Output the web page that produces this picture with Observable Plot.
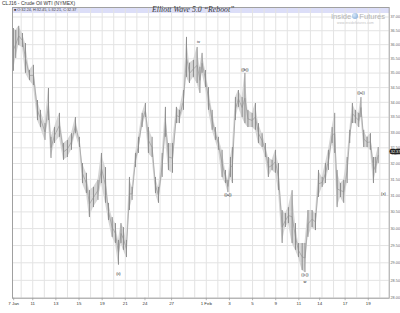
<!DOCTYPE html>
<html>
<head>
<meta charset="utf-8">
<script src="https://cdn.jsdelivr.net/npm/d3@7"></script>
<script src="https://cdn.jsdelivr.net/npm/@observablehq/plot@0.6"></script>
<style>
  html, body { margin: 0; padding: 0; background: #fff; }
  #wrap { position: relative; width: 400px; height: 313px; overflow: hidden; font-family: "Liberation Sans", Arial, sans-serif; }
  #wrap svg { position: absolute; left: 0; top: 0; }
  .ov { position: absolute; white-space: nowrap; }
</style>
</head>
<body>
<div id="wrap"></div>
<script>
// ---- data (trading-day index; 0 = 8 Jan session gridline) ----
const barDays = [-0.67,-0.47,-0.21,0.11,0.37,0.72,1.06,1.41,1.67,2.06,2.36,2.58,2.88,3.31,3.66,4.00,4.35,4.69,5.04,5.30,5.64,5.90,6.25,6.64,6.94,7.29,7.55,7.87,8.15,8.41,8.63,8.84,9.10,9.36,9.59,9.88,10.14,10.46,10.74,11.00,11.32,11.61,11.87,12.19,12.47,12.73,13.08,13.42,13.68,14.03,14.29,14.55,14.89,15.21,15.45,15.64,15.93,16.19,16.51,16.79,17.05,17.37,17.66,17.87,18.09,18.26,18.52,18.78,19.10,19.34,19.60,19.97,20.25,20.51,20.83,21.11,21.37,21.69,21.98,22.24,22.56,22.84,23.10,23.42,23.71,23.97,24.29,24.53,24.79,25.15,25.44,25.70,26.02,26.30,26.56,26.88,27.10,27.31,27.60,27.88,28.18,28.40,28.63,28.89,29.18,29.37,29.61,29.90,30.19,30.45,30.65,30.86];
const barHighs = [36.58,36.51,36.66,36.40,36.04,35.09,35.27,34.06,33.73,33.29,34.47,32.84,33.16,33.63,32.64,32.74,32.96,33.49,32.84,32.00,31.69,31.15,31.25,31.47,32.32,31.87,30.76,30.33,30.15,29.65,30.15,30.03,29.65,31.56,31.25,32.32,32.84,33.63,33.96,33.16,32.84,31.56,31.25,32.32,33.83,32.64,32.64,33.83,33.73,34.40,36.26,35.34,35.44,35.90,35.20,35.69,35.09,34.50,33.73,33.16,32.84,32.42,31.78,31.47,32.19,32.51,34.16,34.40,34.16,34.99,33.73,33.63,33.96,33.29,32.96,32.64,32.19,32.10,32.42,32.00,30.54,30.45,30.63,31.15,30.15,29.56,29.56,29.56,30.54,30.54,30.45,31.78,31.56,32.00,32.42,33.16,33.63,31.78,31.37,31.47,32.19,33.07,33.96,33.73,33.63,34.16,33.07,32.84,32.96,32.19,32.19,32.51];
const barLows = [35.06,35.51,35.97,35.90,34.99,34.74,34.57,33.39,33.16,32.74,33.39,32.16,32.64,32.84,32.10,32.19,32.42,32.96,32.51,31.37,31.06,30.33,30.63,30.85,31.37,30.76,30.24,29.74,29.56,28.93,29.56,29.36,29.15,30.54,30.85,31.87,32.32,33.16,33.49,32.32,32.19,31.06,30.76,31.56,32.84,31.78,31.69,33.29,33.29,33.73,34.85,34.64,34.85,34.64,34.30,34.99,34.50,33.73,33.07,32.74,32.42,31.56,31.37,31.09,31.56,31.37,33.39,33.83,33.49,33.29,33.16,33.16,33.07,32.64,32.51,32.19,31.56,31.78,31.69,31.15,29.56,30.03,30.15,29.56,29.36,29.15,28.78,28.72,29.74,30.03,29.94,30.94,31.25,31.37,31.78,32.64,32.32,30.63,30.94,30.76,31.37,32.64,33.29,33.29,33.16,33.49,32.51,32.51,32.42,31.37,31.69,32.00];

const gridDays = d3.range(0, 32);
const tickDays = [-0.65, 1, 3, 5, 7, 9, 10.7, 13, 16, 18, 20, 22, 24, 25.8, 28, 30];
const tickLabels = ["7 Jan", "11", "13", "15", "19", "21", "24", "27", "1 Feb", "3", "5", "9", "11", "14", "17", "19"];
const priceTicks = [28.0,28.5,29.0,29.5,30.0,30.5,31.0,31.5,32.0,32.5,33.0,33.5,34.0,34.5,35.0,35.5,36.0,36.5,37.0];

const waveTexts = ["(ii)", "iv", "((a))", "((b))", "((c))", "w", "((a))", "(x)"];
const waveDays = [8.41, 15.33, 17.87, 19.34, 24.53, 24.53, 29.37, 31.31];
const wavePrices = [28.69, 36.11, 31.03, 35.13, 28.65, 28.47, 34.33, 31.06];

const lastPrice = 32.37;
const headerTitle = "CLJ16 - Crude Oil WTI (NYMEX)";
const ohlcText = "\u25A0 O:32.24, H:32.45, L:32.21, C:32.37";
const chartTitle = "Elliott Wave 5.0 \u201CReboot\u201D";

// ---- build tables ----
const bars = barDays.map((d, i) => ({d, h: barHighs[i], l: barLows[i], m: (barHighs[i] + barLows[i]) / 2}));
const xLabels = tickDays.map((d, i) => ({d, t: tickLabels[i]}));
const waves = waveTexts.map((t, i) => ({t, d: waveDays[i], p: wavePrices[i]}));
const axisFloor = priceTicks[0];

const chart = Plot.plot({
  width: 400,
  height: 313,
  marginLeft: 12,
  marginRight: 11.3,
  marginTop: 7,
  marginBottom: 15.3,
  x: {domain: [-0.75, 31.81], axis: null},
  y: {type: "log", domain: [28, 37.35], axis: null},
  style: {fontFamily: "Liberation Sans, Arial, sans-serif", background: "transparent", overflow: "visible"},
  marks: [
    Plot.gridX(gridDays, {stroke: "#e3e3e3", strokeOpacity: 1}),
    Plot.gridY(priceTicks, {stroke: "#e3e3e3", strokeOpacity: 1}),
    Plot.areaY(bars, {x: "d", y1: "l", y2: "h", fill: "#d6d6d6", curve: "linear"}),
    Plot.line(bars, {x: "d", y: "m", stroke: "#a2a2a2", strokeWidth: 0.8}),
    Plot.ruleX(bars, {x: "d", y1: "l", y2: "h", stroke: "#8e8e8e", strokeWidth: 1}),
    Plot.frame({stroke: "#a0a0a0"}),
    Plot.ruleX(xLabels, {x: "d", y1: axisFloor, y2: axisFloor * 0.9975, stroke: "#a0a0a0", strokeWidth: 0.8, clip: false}),
    Plot.text(xLabels, {x: "d", text: "t", frameAnchor: "bottom", dy: 6.5, fontSize: 4.4, fill: "#333",
      fontWeight: d => d.t.length > 2 ? "bold" : "normal"}),
    Plot.text(priceTicks, {y: d => d, text: d => d.toFixed(2), frameAnchor: "right", dx: 1.3, textAnchor: "start", fontSize: 3.8, fill: "#666"}),
    Plot.text(waves, {x: "d", y: "p", text: "t", fontSize: 4, fill: "#111"}),
    Plot.text([lastPrice], {y: d => d, text: d => d.toFixed(2), frameAnchor: "right", dx: 1.6, textAnchor: "start",
      fontSize: 3.8, fill: "#fff", stroke: "#222", strokeWidth: 2.6, strokeLinejoin: "miter", paintOrder: "stroke"})
  ]
});

const wrap = document.getElementById("wrap");
const band = document.createElement("div");
band.className = "ov";
band.style.cssText = "left:12px;top:7px;width:377px;height:6px;background:#dcdef8;";
wrap.appendChild(band);
wrap.appendChild(chart);

function addText(txt, css) {
  const el = document.createElement("div");
  el.className = "ov";
  el.style.cssText = css;
  el.textContent = txt;
  wrap.appendChild(el);
  return el;
}
addText(headerTitle, "left:2px;top:0px;font-size:5px;line-height:6px;color:#333;");
addText(ohlcText, "left:14px;top:7.5px;font-size:3.8px;line-height:5px;color:#444;");
addText(chartTitle, "left:152px;top:5px;font-family:'Liberation Serif','DejaVu Serif',serif;font-style:italic;font-size:7.8px;line-height:9px;color:#3a3a3a;");

const logo = document.createElement("div");
logo.className = "ov";
logo.style.cssText = "left:331px;top:12.5px;font-size:7.6px;line-height:8px;color:#b4b4b4;";
logo.innerHTML = 'Inside<span style="display:inline-block;width:6px;height:6px;border-radius:50%;background:radial-gradient(circle at 35% 35%,#d8e8f8,#7aa6d6);margin:0 1px;vertical-align:-0.5px"></span>Futures';
wrap.appendChild(logo);
addText("www.insidefutures.com", "left:337px;top:21px;font-size:3.2px;line-height:4px;color:#c0c0c0;letter-spacing:0.2px;");
</script>
</body>
</html>
